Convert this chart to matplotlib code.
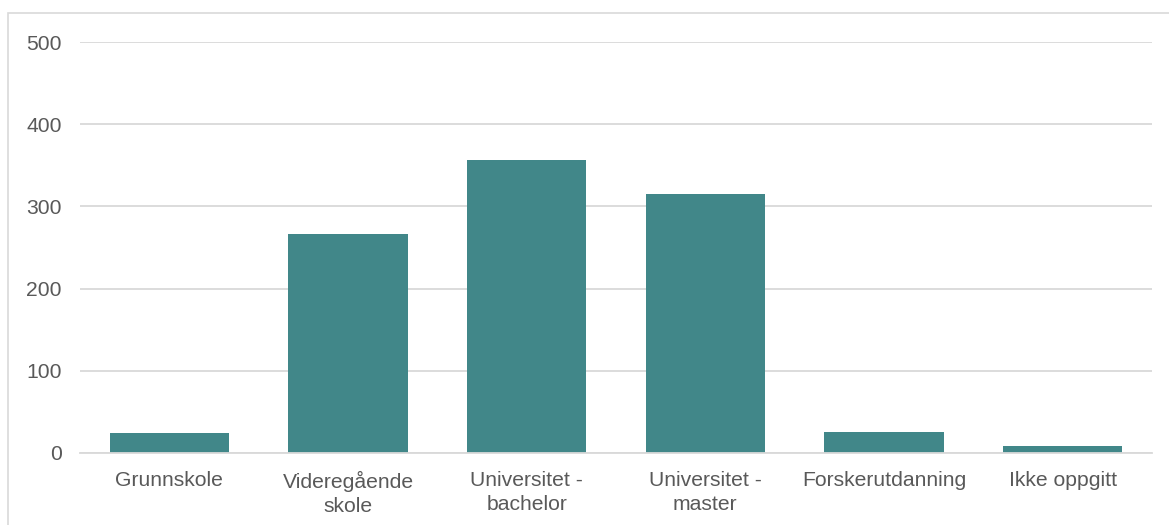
import matplotlib.pyplot as plt
from matplotlib.patches import Rectangle

plt.rcParams['font.family'] = ['Liberation Sans', 'DejaVu Sans']

# data
categories = ['Grunnskole', 'Videregående\nskole', 'Universitet -\nbachelor',
              'Universitet -\nmaster', 'Forskerutdanning', 'Ikke oppgitt']
values = [24, 266, 357, 315, 26, 9]
yticks = [0, 100, 200, 300, 400, 500]

W, H = 1169, 525
fig = plt.figure(figsize=(W / 100, H / 100), dpi=100)
ax = fig.add_axes([80 / W, 1 - 453 / H, (1152 - 80) / W, (453 - 42) / H])

bar_color = '#418789'
text_color = '#595959'
grid_color = '#d9d9d9'

x = range(len(categories))
ax.bar(x, values, width=0.667, color=bar_color, zorder=3)

ax.set_xlim(-0.5, len(categories) - 0.5)
ax.set_ylim(0, 500)
ax.set_yticks(yticks)
ax.set_xticks(list(x))
ax.set_xticklabels(categories, linespacing=1.3)

ax.grid(axis='y', color=grid_color, linewidth=1.3, zorder=0)
for s in ['top', 'right', 'left']:
    ax.spines[s].set_visible(False)
ax.spines['bottom'].set_color(grid_color)
ax.spines['bottom'].set_linewidth(1.3)
ax.spines['bottom'].set_zorder(4)

ax.tick_params(axis='both', length=0, labelsize=15.2, colors=text_color)
ax.tick_params(axis='y', pad=13)
ax.tick_params(axis='x', pad=13)

# chart border
fig.patches.append(Rectangle((8 / W, -0.1), 1.2, 1 - 12.5 / H + 0.1,
                             transform=fig.transFigure, fill=False,
                             edgecolor='#d9d9d9', linewidth=1.2))

fig.savefig('out.png', dpi=100)
